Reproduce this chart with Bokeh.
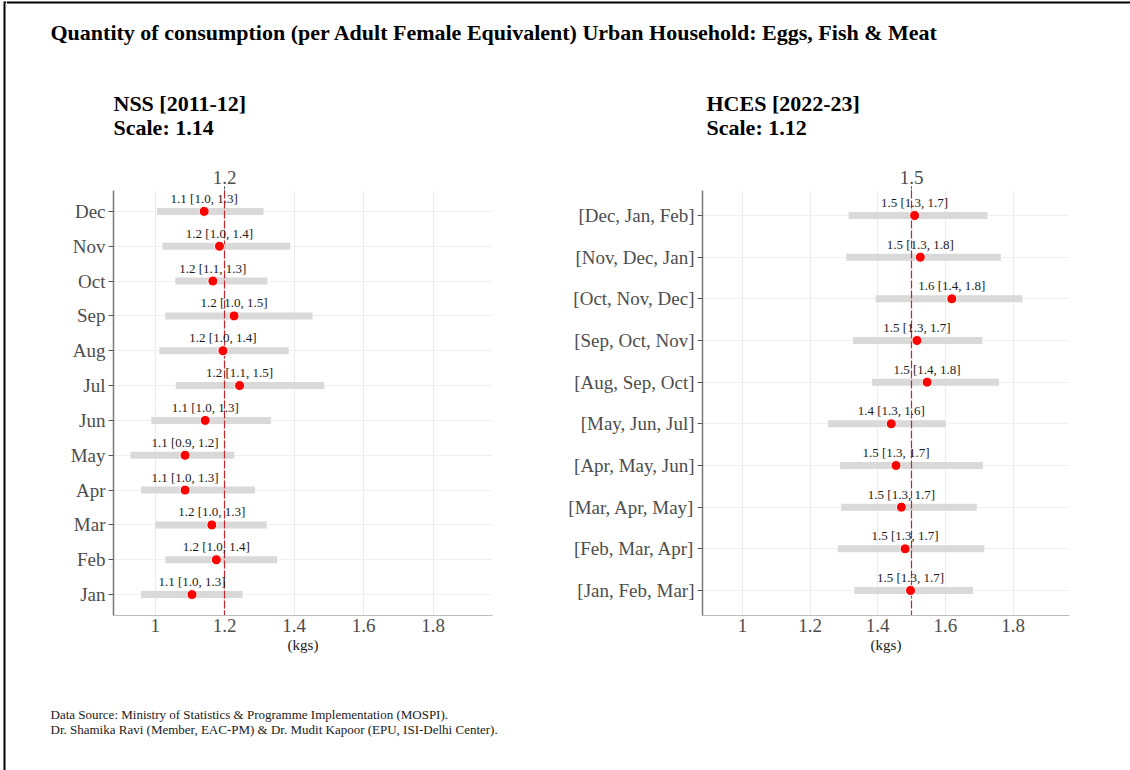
from bokeh.plotting import figure
from bokeh.models import (Range1d, FactorRange, FixedTicker, LinearAxis,
                          CustomJSTickFormatter, ColumnDataSource)
from bokeh.layouts import column, row
from bokeh.embed import file_html
from bokeh.resources import INLINE
from bokeh.core.properties import value

FONT = "Liberation Serif"

# ---------------- texts ----------------
main_title = "Quantity of consumption (per Adult Female Equivalent) Urban Household: Eggs, Fish & Meat"
nss_title = "NSS [2011-12]"
nss_scale = "Scale: 1.14"
hces_title = "HCES [2022-23]"
hces_scale = "Scale: 1.12"
x_label = "(kgs)"
footer_lines = [
    "Data Source: Ministry of Statistics & Programme Implementation (MOSPI).",
    "Dr. Shamika Ravi (Member, EAC-PM) & Dr. Mudit Kapoor (EPU, ISI-Delhi Center).",
]

# ---------------- data: NSS 2011-12 (top to bottom) ----------------
nss_months = ["Dec", "Nov", "Oct", "Sep", "Aug", "Jul", "Jun", "May", "Apr", "Mar", "Feb", "Jan"]
nss_mean = [1.141, 1.185, 1.166, 1.227, 1.195, 1.243, 1.144, 1.086, 1.086, 1.163, 1.176, 1.106]
nss_low = [1.005, 1.021, 1.058, 1.029, 1.012, 1.059, 0.989, 0.929, 0.959, 1.000, 1.029, 0.959]
nss_high = [1.312, 1.389, 1.323, 1.453, 1.384, 1.487, 1.333, 1.228, 1.287, 1.321, 1.351, 1.252]
nss_labels = ["1.1 [1.0, 1.3]", "1.2 [1.0, 1.4]", "1.2 [1.1, 1.3]", "1.2 [1.0, 1.5]",
              "1.2 [1.0, 1.4]", "1.2 [1.1, 1.5]", "1.1 [1.0, 1.3]", "1.1 [0.9, 1.2]",
              "1.1 [1.0, 1.3]", "1.2 [1.0, 1.3]", "1.2 [1.0, 1.4]", "1.1 [1.0, 1.3]"]
nss_ref = 1.2

# ---------------- data: HCES 2022-23 (top to bottom) ----------------
hces_seasons = ["[Dec, Jan, Feb]", "[Nov, Dec, Jan]", "[Oct, Nov, Dec]", "[Sep, Oct, Nov]",
                "[Aug, Sep, Oct]", "[May, Jun, Jul]", "[Apr, May, Jun]", "[Mar, Apr, May]",
                "[Feb, Mar, Apr]", "[Jan, Feb, Mar]"]
hces_mean = [1.509, 1.526, 1.619, 1.516, 1.546, 1.440, 1.454, 1.470, 1.481, 1.497]
hces_low = [1.314, 1.307, 1.394, 1.327, 1.383, 1.253, 1.289, 1.292, 1.282, 1.331]
hces_high = [1.724, 1.764, 1.828, 1.709, 1.759, 1.601, 1.711, 1.693, 1.715, 1.682]
hces_labels = ["1.5 [1.3, 1.7]", "1.5 [1.3, 1.8]", "1.6 [1.4, 1.8]", "1.5 [1.3, 1.7]",
               "1.5 [1.4, 1.8]", "1.4 [1.3, 1.6]", "1.5 [1.3, 1.7]", "1.5 [1.3, 1.7]",
               "1.5 [1.3, 1.7]", "1.5 [1.3, 1.7]"]
hces_ref = 1.5

x_ticks = [1.0, 1.2, 1.4, 1.6, 1.8]

TICK_COLOR = "#4D4D4D"
REF_COLOR = "#C0282D"
fmt_code = "return String(Math.round(tick * 10) / 10);"


def panel(cats, mean, low, high, labels, ref, width, b_left, b_right, xr):
    src = ColumnDataSource(dict(cat=cats, mean=mean, low=low, high=high, label=labels))
    p = figure(width=width, height=520,
               y_range=FactorRange(factors=cats[::-1], range_padding=0.1,
                                   range_padding_units="absolute"),
               x_range=Range1d(*xr),
               output_backend="svg", toolbar_location=None,
               min_border_left=b_left, min_border_right=b_right,
               min_border_top=40, min_border_bottom=55)
    p.outline_line_color = None
    p.background_fill_color = "white"
    p.border_fill_color = "white"

    # grids
    p.xgrid.ticker = FixedTicker(ticks=x_ticks)
    p.xgrid.grid_line_color = "#EBEBEB"
    p.xgrid.grid_line_width = 1
    p.ygrid.grid_line_color = "#F0F0F0"
    p.ygrid.grid_line_width = 1

    # bottom axis
    xa = p.xaxis[0]
    xa.ticker = FixedTicker(ticks=x_ticks)
    xa.formatter = CustomJSTickFormatter(code=fmt_code)
    xa.major_tick_out = 0
    xa.major_tick_in = 0
    xa.minor_tick_out = 0
    xa.minor_tick_in = 0
    xa.axis_line_color = "#BDBDBD"
    xa.axis_line_width = 1
    xa.major_label_text_font = FONT
    xa.major_label_text_font_size = "19px"
    xa.major_label_text_color = TICK_COLOR
    xa.major_label_standoff = 3
    xa.axis_label = x_label
    xa.axis_label_text_font = FONT
    xa.axis_label_text_font_style = "normal"
    xa.axis_label_text_font_size = "15px"
    xa.axis_label_text_color = "#1A1A1A"
    xa.axis_label_standoff = 2

    # left axis
    ya = p.yaxis[0]
    ya.major_tick_out = 5
    ya.major_tick_in = 0
    ya.major_tick_line_color = "#555555"
    ya.axis_line_color = "#7A7A7A"
    ya.axis_line_width = 1.5
    ya.major_label_text_font = FONT
    ya.major_label_text_font_size = "19px"
    ya.major_label_text_color = TICK_COLOR
    ya.major_label_standoff = 3

    # top axis showing the reference value
    top = LinearAxis(ticker=FixedTicker(ticks=[ref]),
                     formatter=CustomJSTickFormatter(code=fmt_code))
    top.axis_line_color = None
    top.major_tick_out = 4
    top.major_tick_in = 0
    top.major_tick_line_color = "#333333"
    top.major_tick_line_dash = "2 1"
    top.minor_tick_out = 0
    top.minor_tick_in = 0
    top.major_label_text_font = FONT
    top.major_label_text_font_size = "19px"
    top.major_label_text_color = TICK_COLOR
    top.major_label_standoff = 3
    p.add_layout(top, "above")

    # confidence bars
    p.segment(x0="low", y0="cat", x1="high", y1="cat", source=src,
              line_color="#D9D9D9", line_width=7, line_cap="butt")
    # reference line
    p.vspan(x=[ref], line_color=REF_COLOR, line_width=1.2, line_dash="8 2")
    # points
    p.scatter(x="mean", y="cat", source=src, size=10, fill_color="#FF0000",
              line_color="white", line_width=1)
    # value labels
    p.text(x="mean", y="cat", text="label", source=src, text_align="center",
           text_baseline="middle", y_offset=-13, text_font=value(FONT),
           text_font_size="13px", text_color="#1A1A1A")
    return p


left = panel(nss_months, nss_mean, nss_low, nss_high, nss_labels, nss_ref,
             554, 107, 68, (0.880, 1.971))
right = panel(hces_seasons, hces_mean, hces_low, hces_high, hces_labels, hces_ref,
              570, 142, 61, (0.882, 1.967))


def text_fig(width, height):
    f = figure(width=width, height=height, x_range=Range1d(0, width),
               y_range=Range1d(0, height), x_axis_type=None, y_axis_type=None,
               output_backend="svg", toolbar_location=None, min_border=0)
    f.outline_line_color = None
    f.grid.visible = False
    return f


# thin strip carrying the left part of the black frame
edge = text_fig(6, 770)
edge.quad(left=[3, 3], right=[5, 6], bottom=[0, 767], top=[767, 769],
          fill_color="black", line_color=None)

head = text_fig(1124, 150)
head.quad(left=[0], right=[1124], bottom=[147], top=[149], fill_color="black", line_color=None)
head.text(x=[44], y=[118], text=[main_title], text_font=value(FONT), text_font_style="bold",
          text_font_size="22px", text_baseline="middle", text_color="black")
head.text(x=[107, 107, 700, 700], y=[47, 23, 47, 23],
          text=[nss_title, nss_scale, hces_title, hces_scale],
          text_font=value(FONT), text_font_style="bold", text_font_size="22px",
          text_baseline="middle", text_color="black")

foot = text_fig(1124, 100)
foot.text(x=[44, 44], y=[56, 41], text=footer_lines, text_font=value(FONT),
          text_font_size="13px", text_baseline="middle", text_color="#1A1A1A")

layout = row(edge, column(head, row(left, right, spacing=0), foot, spacing=0), spacing=0)

open("out.html", "w").write(file_html(layout, INLINE))
